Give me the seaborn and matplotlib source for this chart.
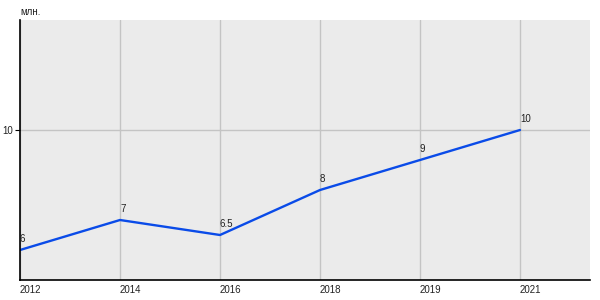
import matplotlib
matplotlib.use("Agg")
import matplotlib.pyplot as plt
import seaborn as sns
import pandas as pd

years = ["2012", "2014", "2016", "2018", "2019", "2021"]
values = [6, 7, 6.5, 8, 9, 10]
labels = ["6", "7", "6.5", "8", "9", "10"]

sns.set_theme(style="white")
plt.rcParams['font.family'] = ['Liberation Sans', 'DejaVu Sans']

df = pd.DataFrame({"year": years, "value": values, "idx": range(len(years))})

fig = plt.figure(figsize=(6, 3), dpi=100)
ax = fig.add_axes([20/600, 20/300, 570/600, 260/300])
ax.set_facecolor("#EBEBEB")

sns.lineplot(data=df, x="idx", y="value", ax=ax, color="#0A4BE8", linewidth=1.7)

ax.set_xlim(0, 5.7)
ax.set_ylim(5, 13.667)
ax.set_xticks(df["idx"])
ax.set_xticklabels(years)
ax.set_yticks([10])
ax.set_yticklabels(["10"])
ax.grid(True, color="#C4C4C4", linewidth=1)
ax.set_axisbelow(True)

for lab in ax.get_xticklabels():
    lab.set_horizontalalignment("left")
ax.tick_params(axis="x", length=0, labelsize=7, pad=3.5, colors="#222222")
ax.tick_params(axis="y", length=3.5, width=0.8, labelsize=7, pad=1.5, colors="#222222", left=True)
ax.tick_params(axis="y", color="black")

for s in ["top", "right"]:
    ax.spines[s].set_visible(False)
for s in ["left", "bottom"]:
    ax.spines[s].set_color("black")
    ax.spines[s].set_linewidth(1.2)

for i, (v, t) in enumerate(zip(values, labels)):
    ax.annotate(t, (i, v), xytext=(0, 4), textcoords="offset points",
                ha="left", va="bottom", fontsize=7, color="#222222")

ax.set_xlabel("")
ax.set_ylabel("")
fig.text(20/600, 1 - 12/300, "млн.", fontsize=7, color="#222222", va="center", ha="left")

fig.savefig("out.png", dpi=100)
